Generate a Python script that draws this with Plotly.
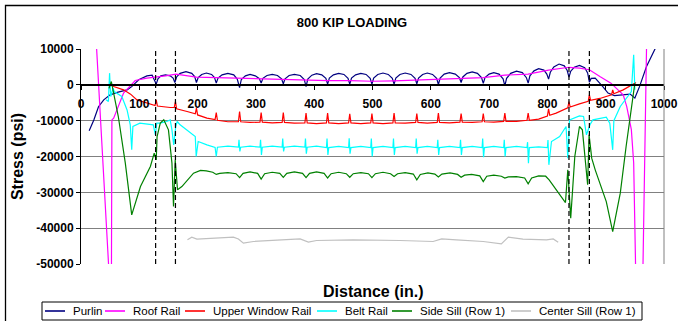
import plotly.graph_objects as go

FONT = "Liberation Sans, Arial, sans-serif"

# ---------------- data ----------------
series_names = ["Purlin", "Roof Rail", "Upper Window Rail", "Belt Rail",
                "Side Sill (Row 1)", "Center Sill (Row 1)"]
series_colors = ["#000080", "#FF00FF", "#FF0000", "#00FFFF", "#008000", "#C0C0C0"]

purlin_x = [14, 22, 30, 39, 50, 62, 79, 87, 99, 113, 122,
            129, 132, 137, 145, 153, 158,
            161, 164, 170, 180, 190, 195,
            198, 201, 207, 215, 224, 229,
            232, 235, 242, 252, 262, 268,
            272, 275, 282, 290, 299, 306,
            309, 312, 319, 328, 337, 344,
            347, 350, 357, 366, 376, 383,
            386, 389, 396, 404, 413, 420,
            423, 426, 433, 442, 451, 458,
            461, 464, 471, 480, 489, 496,
            499, 502, 509, 518, 527, 534,
            537, 540, 547, 556, 566, 573,
            576, 579, 586, 594, 603, 610,
            613, 616, 623, 632, 642, 649,
            652, 655, 662, 671, 680, 687,
            690, 693, 700, 708, 717, 724,
            727, 730, 737, 747, 757, 764,
            767, 770, 777, 785, 794, 799,
            802, 805, 811, 820, 829, 834,
            837, 840, 846, 855, 864, 869,
            872, 875, 882, 895, 904, 915, 930, 942, 950, 958, 970, 984, 992]
purlin_y = [-12800, -9800, -6100, -4200, -2800, -2100, -1400, -500, 1400, 2500, 2700,
            200, 1700, 2500, 2800, 2500, 1900,
            650, 2200, 3200, 3700, 3200, 2300,
            650, 2000, 2900, 3300, 2900, 2000,
            470, 1900, 2800, 3200, 2800, 1600,
            -750, 1500, 2500, 2900, 2500, 1700,
            470, 1800, 2600, 2900, 2600, 1700,
            300, 1700, 2600, 2900, 2600, 1500,
            -500, 1600, 2700, 3100, 2800, 1800,
            200, 1900, 2800, 3200, 2900, 1800,
            200, 1900, 2800, 3200, 2900, 1800,
            200, 1900, 2900, 3300, 2900, 1800,
            200, 1900, 2900, 3300, 2900, 1800,
            300, 1900, 2900, 3300, 2900, 1800,
            100, 1900, 3000, 3400, 3000, 2000,
            650, 2200, 3200, 3600, 3200, 2000,
            400, 2000, 3000, 3400, 3000, 1700,
            -300, 1800, 3200, 3800, 3400, 2000,
            470, 2500, 3900, 4500, 4100, 3000,
            1600, 3500, 5000, 5800, 5300, 4000,
            2150, 3800, 4900, 5400, 4800, 3300,
            750, 1800, 1900, -470, -2300, -3000, -2700, -2600, -3700, -500, 5100, 10000, 12500]

roof_x = [20, 52, 53, 56, 73, 84, 93, 113, 129, 145, 163, 180, 198, 232, 272, 309,
          347, 386, 423, 461, 499, 537, 576, 613, 652, 690, 727, 767, 802, 820,
          837, 855, 872, 890, 909, 930, 936, 944, 948, 958, 972]
roof_y = [30000, -64000, -9800, -9300, -2300, -500, 1200, 1860, 2140, 2500, 2980, 2600, 2140, 2000, 1800, 1600,
          1500, 1300, 1200, 1150, 1000, 1100, 1350, 1500, 1700, 2000, 2700, 3000, 4100, 4500,
          4900, 4650, 4200, 2300, 470, -2800, -6000, -12500, -21800, -110000, 30000]

window_x = [50, 56, 73, 85, 96, 113, 127, 129, 131, 153, 160, 162, 164, 182, 196, 198, 200,
            216, 230, 232, 234, 252, 270, 272, 274, 290, 307, 309, 311, 328, 345, 347, 349,
            366, 384, 386, 388, 404, 421, 423, 425, 442, 459, 461, 463, 480, 497, 499, 501,
            518, 535, 537, 539, 556, 574, 576, 578, 594, 611, 613, 615, 632, 650, 652, 654,
            671, 688, 690, 692, 708, 725, 727, 729, 747, 765, 767, 769, 785, 800, 802, 804,
            815, 835, 837, 839, 855, 870, 872, 874, 890, 910, 912, 914, 930, 941, 952]
window_y = [0, -470, -1400, -2600, -4190, -5100, -5770, -4190, -5900, -6330, -6300, -4650, -6700, -7440, -8090, -6510, -8400,
            -9300, -9700, -7720, -9900, -10300, -10300, -7440, -10300, -10500, -10400, -7720, -10400, -10600, -10500, -7720, -10500,
            -10700, -10600, -7900, -10600, -10800, -10600, -7900, -10600, -10800, -10600, -8100, -10600, -10800, -10600, -8000, -10600,
            -10800, -10600, -7900, -10600, -10700, -10500, -8000, -10500, -10700, -10500, -7900, -10500, -10600, -10400, -8000, -10400,
            -10500, -10300, -8000, -10300, -10400, -10200, -7900, -10200, -10200, -9900, -7900, -9900, -9580, -8700, -6700, -8500,
            -7900, -6400, -4650, -6200, -5300, -4600, -2800, -4300, -3800, -2800, -1400, -2500, -1400, -470, 650]

belt_x = [43, 47, 49, 51, 55, 57, 70, 79, 84.5, 87, 89, 101, 124, 127.5, 130, 136, 147, 153, 156, 159,
          162.5, 165, 170, 182, 196, 197.6, 201, 216, 230, 232, 234, 252,
          270, 271, 272.5, 274, 290,
          307, 308, 309.5, 311, 328,
          345, 346, 347.5, 349, 366,
          384, 385, 386.5, 388, 404,
          421, 422, 423.5, 425, 442,
          459, 460, 461.5, 463, 480,
          497, 498, 499.5, 501, 518,
          535, 536, 537.5, 539, 556,
          574, 575, 576.5, 578, 594,
          611, 612, 613.5, 615, 632,
          650, 651, 652.5, 654, 671,
          688, 689, 690.5, 692, 708,
          725, 726, 727.5, 729, 747,
          765, 766, 767.5, 769, 785,
          800, 801, 802.5,
          807, 821, 832, 835, 838, 855, 862, 867, 873, 878, 901, 907, 912, 914, 925, 935, 944, 948, 950]
belt_y = [-4190, -4650, 3260, -3260, -930, -1860, -3260, -7000, -11160, -18140, -11630, -10700, -11160, -13950, -10700, -10700, -10230, -9770, -12560, -16750,
          -11630, -10230, -11160, -12560, -14420, -20010, -15820, -16750, -17500, -20010, -17400, -17100,
          -17400, -15350, -18600, -17400, -17100,
          -17400, -15350, -19540, -17400, -17100,
          -17400, -15000, -18600, -17400, -17100,
          -17400, -15000, -19200, -17400, -17100,
          -17500, -15000, -19540, -17500, -17200,
          -17500, -14900, -19200, -17500, -17200,
          -17500, -15000, -20000, -17500, -17200,
          -17500, -15000, -19540, -17500, -17200,
          -17500, -15000, -19200, -17500, -17200,
          -17500, -15350, -19540, -17500, -17200,
          -17500, -15350, -19540, -17500, -17200,
          -17500, -15000, -20200, -17500, -17200,
          -17500, -15350, -20000, -17500, -17200,
          -17500, -16000, -21850, -17500, -17300,
          -17500, -15400, -22330,
          -15820, -14420, -11630, -20470, -9770, -8650, -8840, -13950, -11160, -9770, -9030, -10700, -18140, -10000, -6050, -3720, -1860, 8370, -1400]

sill_x = [48, 52, 64, 76, 87, 102, 119, 125.6, 129, 130.5, 136, 142, 150, 156, 158.7, 161.6, 165.5, 173,
          193, 205, 215, 226, 232, 238, 252, 266, 272, 278, 290, 303, 309, 315, 328, 341, 347, 353,
          366, 380, 386, 392, 404, 417, 423, 429, 442, 455, 461, 467, 480, 493, 499, 505,
          518, 531, 537, 543, 556, 570, 576, 582, 595, 607, 613, 619, 633, 646, 652, 658,
          670, 684, 690, 696, 708, 721, 727, 733, 747, 761, 767, 773, 785, 797, 803,
          815, 831, 835, 840, 847, 855, 860, 866, 869, 871.5, 876, 882, 901, 912, 925, 935, 944, 950]
sill_y = [-1000, 930, -8840, -21850, -36290, -28390, -22800, -19070, -20940, -14420, -10700, -9770, -12560, -21850, -33960, -20940, -29300, -28390,
          -24650, -23900, -24000, -24400, -25000, -24700, -24500, -24800, -25900, -24700, -24300, -24700, -26300, -24800, -24400, -24700, -25800, -24700,
          -24300, -24700, -25900, -24700, -24300, -24700, -26000, -24800, -24400, -24800, -25800, -24800, -24500, -24800, -25900, -24800,
          -24400, -24800, -25600, -24800, -24500, -24900, -26500, -25000, -24600, -24900, -25700, -24900, -24600, -25000, -25800, -25200,
          -25000, -25400, -27000, -25500, -25200, -25500, -26000, -25700, -25600, -26000, -27600, -26000, -25400, -25500, -26500,
          -29300, -32850, -23700, -37200, -20000, -11630, -12560, -21850, -27900, -13950, -20470, -23720, -32570, -40950, -30230, -17200, -6050, 470]

center_x = [182.6, 190, 198.8, 227, 261.4, 270, 278.6, 295.7, 341.5, 375.8, 390, 404, 467, 513, 547,
            604, 618.6, 644, 690, 721, 733, 758, 798.5, 810, 818.5]
center_y = [-43260, -42500, -43070, -42800, -42500, -43000, -44180, -43720, -43260, -43000, -43900, -43440, -43260, -43260, -43440,
            -43720, -43000, -43260, -43720, -44370, -42500, -43070, -43260, -43000, -43900]

dashed_x = [128, 162, 837, 872]

x_tick_vals = [0, 100, 200, 300, 400, 500, 600, 700, 800, 900, 1000]
x_tick_labels = ["0", "100", "200", "300", "400", "500", "600", "700", "800", "900", "1000"]
y_tick_vals = [10000, 0, -10000, -20000, -30000, -40000, -50000]
y_tick_labels = ["10000", "0", "-10000", "-20000", "-30000", "-40000", "-50000"]

all_x = [purlin_x, roof_x, window_x, belt_x, sill_x, center_x]
all_y = [purlin_y, roof_y, window_y, belt_y, sill_y, center_y]
for a, b in zip(all_x, all_y):
    assert len(a) == len(b), (len(a), len(b))

# ---------------- layout geometry (pixels) ----------------
W, H = 678, 321
ML, MR, MT, MB = 81, 14, 49, 57
PW, PH = W - ML - MR, H - MT - MB


def px2x(px):
    return (px - ML) / PW


def py2y(py):
    return (H - MB - py) / PH


fig = go.Figure()
for name, color, xs, ys in zip(series_names, series_colors, all_x, all_y):
    fig.add_trace(go.Scatter(x=xs, y=ys, mode="lines", name=name,
                             line=dict(color=color, width=1.2), showlegend=False))

shapes = []
for xv in dashed_x:
    shapes.append(dict(type="line", xref="x", yref="y", x0=xv, x1=xv, y0=-50000, y1=10000,
                       line=dict(color="black", width=1.2, dash="5px,3px")))
# right plot border
shapes.append(dict(type="line", xref="paper", yref="paper", x0=1, x1=1, y0=0, y1=1,
                   line=dict(color="#808080", width=1)))
# chart outer border
shapes.append(dict(type="rect", xref="paper", yref="paper", x0=px2x(5.5), x1=px2x(700),
                   y0=py2y(340), y1=py2y(5.5), line=dict(color="black", width=1.3)))
# legend box
shapes.append(dict(type="rect", xref="paper", yref="paper", x0=px2x(42), x1=px2x(642),
                   y0=py2y(320), y1=py2y(302), line=dict(color="black", width=1)))

annotations = []
legend_text_px = [71, 131, 211, 343, 418, 537]
leg_y = 311
for name, color, tx in zip(series_names, series_colors, legend_text_px):
    shapes.append(dict(type="line", xref="paper", yref="paper", x0=px2x(tx - 26), x1=px2x(tx - 6),
                       y0=py2y(leg_y), y1=py2y(leg_y), line=dict(color=color, width=1.6)))
    annotations.append(dict(text=name, xref="paper", yref="paper", x=px2x(tx), y=py2y(leg_y),
                            xanchor="left", yanchor="middle", showarrow=False,
                            font=dict(family=FONT, size=11.5, color="black")))

annotations.append(dict(text="Distance (in.)", xref="paper", yref="paper", x=px2x(372.5), y=py2y(291),
                        xanchor="center", yanchor="middle", showarrow=False,
                        font=dict(family=FONT, size=16, color="black", weight="bold")))

fig.update_layout(
    width=W, height=H,
    margin=dict(l=ML, r=MR, t=MT, b=MB, autoexpand=False),
    paper_bgcolor="white", plot_bgcolor="white",
    font=dict(family=FONT, color="black"),
    showlegend=False,
    title=dict(text="800 KIP LOADING", xref="container", yref="container",
               x=352 / W, y=1 - 22 / H, xanchor="center", yanchor="middle",
               font=dict(family=FONT, size=13, color="black", weight="bold")),
    shapes=shapes,
    annotations=annotations,
    xaxis=dict(range=[0, 1000], tickvals=x_tick_vals, ticktext=x_tick_labels,
               anchor="free", position=py2y(85),
               showline=True, linecolor="black", linewidth=1.5,
               ticks="outside", ticklen=4, tickcolor="black", tickwidth=1,
               ticklabelstandoff=4,
               showgrid=False, zeroline=False,
               tickfont=dict(family=FONT, size=12, color="black", weight="bold")),
    yaxis=dict(range=[-50000, 10000], tickvals=y_tick_vals, ticktext=y_tick_labels,
               showline=True, linecolor="black", linewidth=1,
               ticks="outside", ticklen=4, tickcolor="black",
               showgrid=True, gridcolor="#808080", gridwidth=1,
               zeroline=True, zerolinecolor="black", zerolinewidth=1.5,
               tickfont=dict(family=FONT, size=12, color="black", weight="bold"),
               title=dict(text="Stress (psi)", standoff=8,
                          font=dict(family=FONT, size=16, color="black", weight="bold"))),
)

fig.write_html("out.html")
